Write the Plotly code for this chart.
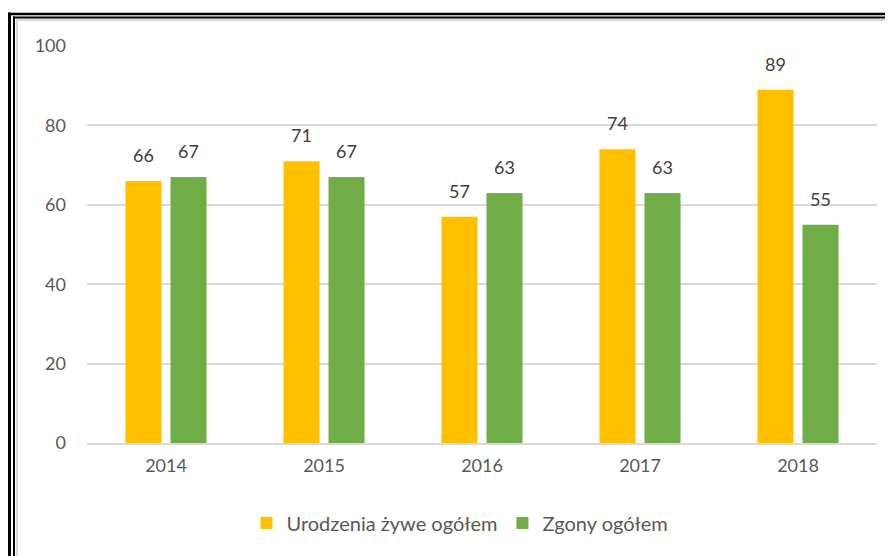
import plotly.graph_objects as go

years = ["2014", "2015", "2016", "2017", "2018"]
urodzenia = [66, 71, 57, 74, 89]
zgony = [67, 67, 63, 63, 55]
series_names = ["Urodzenia żywe ogółem", "Zgony ogółem"]
y_ticks = [0, 20, 40, 60, 80, 100]

# page has an 8px body margin; work in screen pixels and shift
OFF = 8
W, H = 893, 556
L, R, T, B = 87 - OFF, 24, 46 - OFF, 121
pw, ph = W - L - R, H - T - B

def px(x):
    return (x - OFF - L) / pw

def py(y):
    return (H - B - (y - OFF)) / ph

fig = go.Figure()
fig.add_trace(go.Bar(x=years, y=urodzenia, name=series_names[0],
                     marker=dict(color="#FFC000", line=dict(width=0))))
fig.add_trace(go.Bar(x=years, y=zgony, name=series_names[1],
                     marker=dict(color="#70AD47", line=dict(width=0))))

annotations = []
for vals, shift in ((urodzenia, -22.5), (zgony, 22.5)):
    for i, v in enumerate(vals):
        annotations.append(dict(x=i, y=v, xref="x", yref="y", text=str(v),
                                showarrow=False, xshift=shift, yshift=13,
                                yanchor="bottom",
                                font=dict(family="Lato", size=18, color="#404040")))

shapes = []
def line(x0, y0, x1, y1, color, w):
    shapes.append(dict(type="line", xref="paper", yref="paper",
                       x0=px(x0), y0=py(y0), x1=px(x1), y1=py(y1),
                       line=dict(color=color, width=w), layer="above"))

# double black frame (left and top edges visible)
line(9.5, 12.5, 9.5, 600, "black", 3)
line(8, 14, 950, 14, "black", 2.5)
line(14, 16.5, 14, 600, "black", 2)
line(13, 17.5, 950, 17.5, "black", 2)
# light inner edge
line(17, 19.5, 17, 600, "#D9D9D9", 2)
line(16, 20, 950, 20, "#D9D9D9", 2)

fig.update_layout(
    width=W, height=H,
    margin=dict(l=L, r=R, t=T, b=B),
    paper_bgcolor="white", plot_bgcolor="white",
    barmode="group", bargap=0.43, bargroupgap=0.2,
    font=dict(family="Lato", color="#595959", size=18),
    showlegend=True,
    legend=dict(orientation="h", x=(460 - OFF - L) / pw, xanchor="center",
                y=py(523), yanchor="middle",
                font=dict(size=20, color="#595959"), itemwidth=30, traceorder="normal"),
    shapes=shapes,
    annotations=annotations,
    xaxis=dict(type="category", showgrid=False, showline=True, linecolor="#D9D9D9",
               linewidth=1.5, ticks="", tickfont=dict(size=18, color="#595959"),
               ticklabelstandoff=6),
    yaxis=dict(range=[0, 100], tickvals=y_ticks, showgrid=True, gridcolor="#D9D9D9",
               gridwidth=1.5, zeroline=False, showline=False, ticks="",
               tickfont=dict(size=18, color="#595959"), ticklabelstandoff=20),
)

fig.write_html("out.html")
